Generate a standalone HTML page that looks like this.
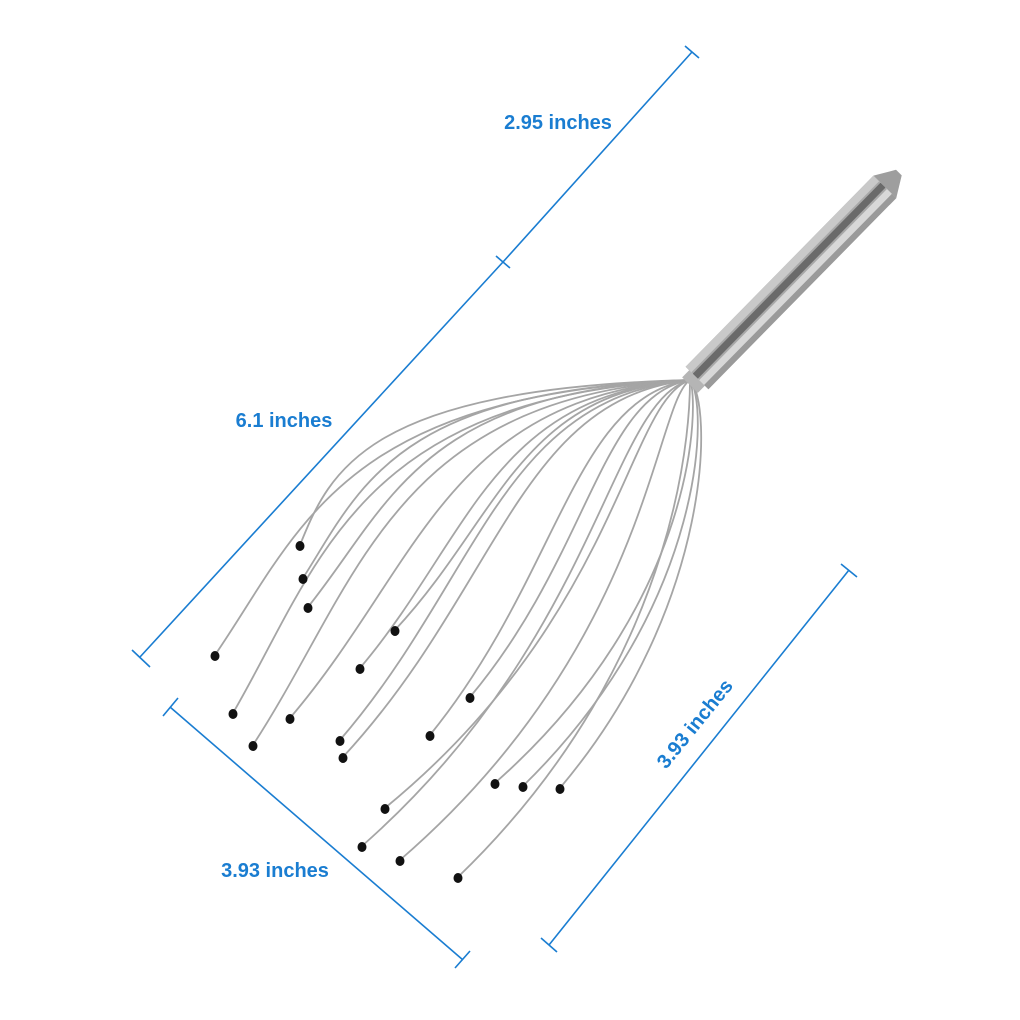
<!DOCTYPE html>
<html><head><meta charset="utf-8"><style>
html,body{margin:0;padding:0;background:#fff;}
svg{display:block;}
text{font-family:"Liberation Sans",sans-serif;font-weight:bold;font-size:20px;fill:#1a7dd1;}
</style></head><body>
<svg width="1020" height="1020" viewBox="0 0 1020 1020">
<g id="wires"></g>
<g>
<g transform="translate(697,378) rotate(-45.5)">
<rect x="0" y="-16" width="268" height="32" fill="#a8a8a8"/>
<rect x="0" y="-16" width="268" height="8" fill="#c9c9c9"/>
<rect x="0" y="-6" width="268" height="7" fill="#6a6a6a"/>
<rect x="0" y="3" width="268" height="7" fill="#d8d8d8"/>
<rect x="0" y="10" width="268" height="6" fill="#9a9a9a"/>
<polygon points="268,-16 288,-4 288,4 268,16" fill="#9e9e9e"/>
<rect x="-10" y="-11" width="10" height="22" fill="#b5b5b5"/>
</g>
</g>
<g id="dims" stroke="#1a7dd1" stroke-width="1.6" fill="none">
<line x1="503" y1="262" x2="692" y2="52"/>
<line x1="496" y1="256" x2="510" y2="268"/>
<line x1="685" y1="46" x2="699" y2="58"/>
<line x1="140" y1="657" x2="503" y2="262"/>
<line x1="132" y1="650" x2="150" y2="667"/>
<line x1="170" y1="707" x2="463" y2="960"/>
<line x1="163" y1="716" x2="178" y2="698"/>
<line x1="455" y1="968" x2="470" y2="951"/>
<line x1="549" y1="945" x2="849" y2="570"/>
<line x1="541" y1="938" x2="557" y2="952"/>
<line x1="841" y1="564" x2="857" y2="577"/>
</g>
<text x="558" y="129" text-anchor="middle">2.95 inches</text>
<text x="284" y="427" text-anchor="middle">6.1 inches</text>
<text x="275" y="877" text-anchor="middle">3.93 inches</text>
<text x="0" y="0" text-anchor="middle" transform="translate(700,728) rotate(-51)">3.93 inches</text>
</svg>
<script>
const tipX=[300,303,308,215,233,253,290,360,395,340,343,430,470,385,362,400,458,495,523,560];
const tipY=[545,578,607,655,713,745,718,668,630,740,757,735,697,808,846,860,877,783,786,788];
const bulgeX=[330,360,390,300,320,360,420,470,500,480,500,560,590,620,600,650,690,700,710,715];
const g=document.getElementById('wires');
const hx=690,hy=380,NS='http://www.w3.org/2000/svg';
for(let i=0;i<tipX.length;i++){
  const p=document.createElementNS(NS,'path');
  const bx=bulgeX[i];
  const c1x=hx-(hx-bx)*0.9, c1y=hy+(tipY[i]-hy)*0.05;
  const c2x=bx, c2y=hy+(tipY[i]-hy)*0.55;
  p.setAttribute('d',`M${hx},${hy} C${c1x},${c1y} ${c2x},${c2y} ${tipX[i]},${tipY[i]}`);
  p.setAttribute('stroke','#a5a5a5');p.setAttribute('stroke-width','1.8');p.setAttribute('fill','none');
  
  
  g.appendChild(p);
}
for(let i=0;i<tipX.length;i++){
  const c=document.createElementNS(NS,'ellipse');
  c.setAttribute('cx',tipX[i]);c.setAttribute('cy',tipY[i]+1);c.setAttribute('rx','4.5');c.setAttribute('ry','5');c.setAttribute('fill','#111');
  
  
  g.appendChild(c);
}
</script>
</body></html>
